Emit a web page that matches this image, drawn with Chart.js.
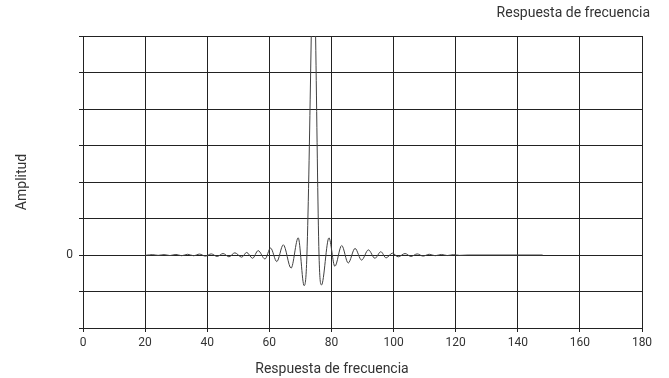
<!DOCTYPE html>
<html>
<head>
<meta charset="utf-8">
<script src="https://cdn.jsdelivr.net/npm/chart.js@4"></script>
<style>
  html, body { margin: 0; padding: 0; background: #fff; }
  #wrap { width: 669px; height: 378px; }
</style>
</head>
<body>
<div id="wrap"><canvas id="chart" width="669" height="378"></canvas></div>
<script>
// frequency (x) and amplitude (y)
const freq = [
  20, 20.4, 22.3, 24.2, 26.1, 28.0, 29.9, 31.8, 33.7, 35.6, 37.5, 39.4, 41.3, 43.2, 45.1, 47.0,
  48.9, 51.1, 52.7, 54.6, 56.4, 58.6, 60.4, 62.4, 64.5, 67.0, 69.3, 71.2,
  72.1, 73.5, 74.2, 74.9, 76.0,
  76.8, 79.2, 81.1, 83.3, 85.4, 87.6, 89.7, 91.9, 94.0, 95.9, 97.6,
  99.6, 101.5, 103.7, 105.6, 107.6, 109.5, 111.5, 113.4, 115.4, 117.3, 119.3, 121.2, 124, 148
];
const amplitude = [
  0, -0.005, 0.01, -0.01, 0.01, -0.015, 0.015, -0.02, 0.02, -0.02, 0.025, -0.03, 0.03, -0.04, 0.04, -0.05,
  0.06, -0.06, 0.07, -0.09, 0.12, -0.11, 0.19, -0.18, 0.28, -0.36, 0.47, -0.84,
  0, 6, 10, 6, 0,
  -0.82, 0.47, -0.31, 0.26, -0.22, 0.18, -0.14, 0.14, -0.09, 0.09, -0.08,
  0.05, -0.05, 0.04, -0.04, 0.03, -0.03, 0.02, -0.02, 0.015, -0.015, 0.01, -0.01, 0, 0
];
const xTicks = [0, 20, 40, 60, 80, 100, 120, 140, 160, 180];
const yShownTicks = [0];

const points = freq.map((f, i) => ({ x: f, y: amplitude[i] }));

const gridColor = '#222';
const textColor = '#333';
const fontFamily = 'Roboto, "Liberation Sans", Arial, sans-serif';

new Chart(document.getElementById('chart'), {
  type: 'line',
  data: {
    datasets: [{
      data: points,
      borderColor: '#404040',
      borderWidth: 1,
      pointRadius: 0,
      fill: false,
      cubicInterpolationMode: 'monotone'
    }]
  },
  options: {
    responsive: false,
    animation: false,
    events: [],
    layout: { padding: { left: 14, right: 19, top: 0, bottom: 0 } },
    plugins: {
      legend: { display: false },
      tooltip: { enabled: false },
      title: {
        display: true,
        text: 'Respuesta de frecuencia',
        align: 'end',
        color: textColor,
        font: { family: fontFamily, size: 14, weight: 'normal', lineHeight: 1.2 },
        padding: { top: 5, bottom: 14.2 }
      },
      subtitle: {
        display: true,
        position: 'bottom',
        text: 'Respuesta de frecuencia',
        color: textColor,
        font: { family: fontFamily, size: 14, weight: 'normal', lineHeight: 1.2 },
        padding: { top: 5.2, bottom: 0 }
      }
    },
    scales: {
      x: {
        type: 'linear',
        min: 0,
        max: 180,
        afterFit: (scale) => { scale.height = 28; },
        afterBuildTicks: (scale) => { scale.ticks = xTicks.map(v => ({ value: v })); },
        ticks: {
          color: textColor,
          font: { family: fontFamily, size: 12 },
          padding: 4,
          maxRotation: 0
        },
        grid: { color: gridColor, lineWidth: 1, tickLength: 4 },
        border: { color: gridColor }
      },
      y: {
        min: -2,
        max: 6,
        afterFit: (scale) => { scale.width = 69; },
        ticks: {
          stepSize: 1,
          color: textColor,
          font: { family: fontFamily, size: 12 },
          padding: 6,
          callback: (v) => yShownTicks.includes(v) ? String(v) : ''
        },
        grid: { color: gridColor, lineWidth: 1, tickLength: 4 },
        border: { color: gridColor },
        title: {
          display: true,
          text: 'Amplitud',
          color: textColor,
          font: { family: fontFamily, size: 14 },
          padding: { top: 0, bottom: 0 }
        }
      },
      // empty spacer on the right so the title can sit further right than the plot
      yRight: {
        position: 'right',
        min: -2,
        max: 6,
        afterFit: (scale) => { scale.width = 8; },
        ticks: { display: false },
        grid: { display: false },
        border: { display: false }
      }
    }
  }
});
</script>
</body>
</html>
